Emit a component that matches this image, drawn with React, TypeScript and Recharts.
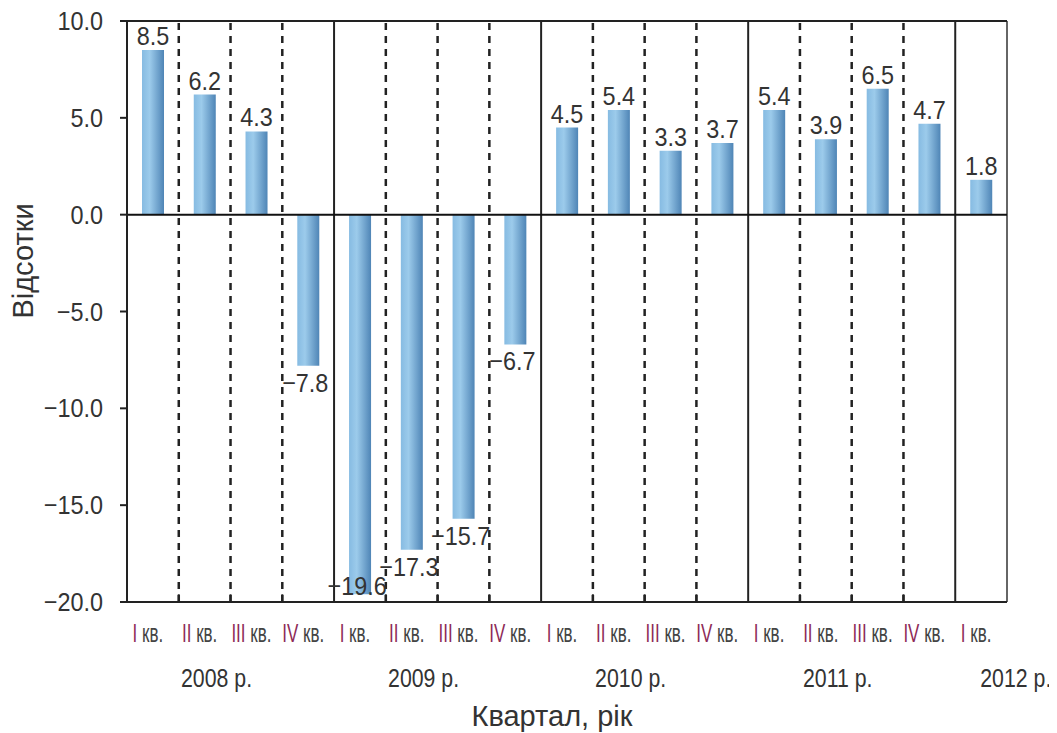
import {
  BarChart,
  Bar,
  XAxis,
  YAxis,
  ReferenceLine,
  LabelList,
} from "recharts";

const quarters = ["I", "II", "III", "IV", "I", "II", "III", "IV", "I", "II", "III", "IV", "I", "II", "III", "IV", "I"];
const years = ["2008 р.", "2009 р.", "2010 р.", "2011 р.", "2012 р."];
const yearOfQuarter = [0, 0, 0, 0, 1, 1, 1, 1, 2, 2, 2, 2, 3, 3, 3, 3, 4];
const growth = [8.5, 6.2, 4.3, -7.8, -19.6, -17.3, -15.7, -6.7, 4.5, 5.4, 3.3, 3.7, 5.4, 3.9, 6.5, 4.7, 1.8];
const yTicks = [-20, -15, -10, -5, 0, 5, 10];

const W = 1049;
const H = 725;
const M = { top: 13, right: 50, left: 39, bottom: 0 };
const Y_W = 80;
const X_H = 131;
const BAND = (W - M.left - M.right - Y_W) / quarters.length;

const SANS = "'Liberation Sans', Arial, sans-serif";

const data = growth.map((v, i) => ({
  id: `${quarters[i]}-${years[yearOfQuarter[i]]}`,
  value: v,
}));

// separators sit at the start of each category after the first
const inner = data.slice(1);
const isYearStart = (d: any) => d.id.startsWith("I-");

const fmt = (v: number) => (v < 0 ? "\u2212" : "") + Math.abs(v).toFixed(1);

// condensed look: regular sans squeezed horizontally
function Narrow({ x, y, sx, size, anchor = "middle", fill = "#333", children }: any) {
  return (
    <text
      transform={`translate(${x},${y}) scale(${sx},1)`}
      textAnchor={anchor}
      fontFamily={SANS}
      fontSize={size}
      fill={fill}
    >
      {children}
    </text>
  );
}

function QuarterTick(props: any) {
  const { x, y, index } = props;
  const yr = yearOfQuarter[index];
  const first = yearOfQuarter.indexOf(yr) === index;
  const n = yearOfQuarter.filter((q) => q === yr).length;
  return (
    <g>
      <Narrow x={x - 5} y={y + 40} sx={0.68} size={25}>
        <tspan fill="#8e2b57">{quarters[index]}</tspan>
        <tspan fill="#444"> кв.</tspan>
      </Narrow>
      {first && (
        <Narrow
          x={n > 1 ? x + ((n - 1) / 2) * BAND - 14 : x - BAND / 2 + 25}
          y={y + 85}
          anchor={n > 1 ? "middle" : "start"}
          sx={0.82}
          size={26}
        >
          {years[yr]}
        </Narrow>
      )}
    </g>
  );
}

function ValueTick(props: any) {
  const { x, y, payload } = props;
  return (
    <Narrow x={x} y={y + 9} sx={0.9} size={26} anchor="end">
      {fmt(payload.value)}
    </Narrow>
  );
}

function ValueLabel(props: any) {
  const { x, y, width, height, value } = props;
  const top = Math.min(y, y + height);
  const bottom = Math.max(y, y + height);
  const cx = x + width / 2;
  const ty = value >= 0 ? top - 5 : Math.min(bottom + 26, 587);
  return (
    <Narrow x={value < 0 ? cx - 3 : cx} y={ty} sx={0.9} size={26}>
      {fmt(value)}
    </Narrow>
  );
}

export default function App() {
  const last = data[data.length - 1].id;
  return (
    <div style={{ position: "relative", width: W, height: H }}>
      <BarChart width={W} height={H} data={data} margin={M}>
        <defs>
          <linearGradient id="barGrad" x1="0" y1="0" x2="1" y2="0">
            <stop offset="0%" stopColor="#86bbe2" />
            <stop offset="35%" stopColor="#9ccbeb" />
            <stop offset="100%" stopColor="#4f85b6" />
          </linearGradient>
        </defs>
        <XAxis
          dataKey="id"
          height={X_H}
          interval={0}
          tickLine={false}
          tickSize={0}
          tickMargin={0}
          axisLine={{ stroke: "#222", strokeWidth: 2 }}
          tick={<QuarterTick />}
        />
        <YAxis
          domain={[-20, 10]}
          ticks={yTicks}
          interval={0}
          width={Y_W}
          tickSize={7}
          tickMargin={17}
          axisLine={{ stroke: "#222", strokeWidth: 2 }}
          tickLine={{ stroke: "#222", strokeWidth: 2 }}
          tick={<ValueTick />}
        />
        {inner.filter((d) => !isYearStart(d)).map((d) => (
          <ReferenceLine
            key={`d${d.id}`}
            x={d.id}
            position="start"
            stroke="#222"
            strokeWidth={2.5}
            strokeDasharray="7 6"
          />
        ))}
        {inner.filter((d) => !isYearStart(d)).map((d) => (
          <ReferenceLine
            key={`t${d.id}`}
            position="start"
            segment={[{ x: d.id, y: -20 }, { x: d.id, y: -19.6 }]}
            stroke="#222"
            strokeWidth={2}
          />
        ))}
        {inner.filter(isYearStart).map((d) => (
          <ReferenceLine key={`y${d.id}`} x={d.id} position="start" stroke="#222" strokeWidth={2} />
        ))}
        <ReferenceLine x={last} position="end" stroke="#666" strokeWidth={2} />
        <ReferenceLine y={10} stroke="#222" strokeWidth={2} />
        <ReferenceLine y={0} stroke="#111" strokeWidth={2} />
        <Bar dataKey="value" barSize={22} fill="url(#barGrad)" isAnimationActive={false}>
          <LabelList dataKey="value" content={<ValueLabel />} />
        </Bar>
      </BarChart>
      <div
        style={{
          position: "absolute",
          left: 15,
          top: 253,
          transform: "translate(-50%, -50%) rotate(-90deg)",
          fontFamily: SANS,
          fontSize: 29,
          color: "#333",
          whiteSpace: "nowrap",
        }}
      >
        Відсотки
      </div>
      <div
        style={{
          position: "absolute",
          left: 544,
          top: 692,
          transform: "translateX(-50%)",
          fontFamily: SANS,
          fontSize: 29,
          color: "#333",
          whiteSpace: "nowrap",
        }}
      >
        Квартал, рік
      </div>
    </div>
  );
}
